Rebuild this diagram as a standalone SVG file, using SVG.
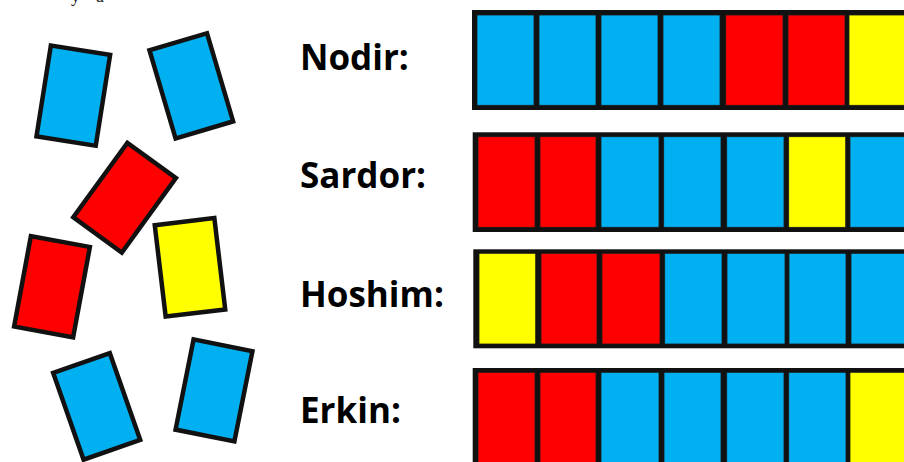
<svg xmlns="http://www.w3.org/2000/svg" width="904" height="462" viewBox="0 0 904 462">
<style>
.card{stroke:#111;stroke-width:4.5;stroke-linejoin:miter}
.b{fill:#00B0F0}.r{fill:#FF0000}.y{fill:#FFFF00}
.frame{fill:#111}
.cell{stroke:#1a1a1a;stroke-width:0.8}
.lbl{font-family:"Open Sans","Liberation Sans",sans-serif;font-weight:700;font-size:35px;fill:#000}
.frag{font-family:"Liberation Serif",serif;font-size:18px;fill:#222}
</style>
<defs>
<rect id="c" x="-30" y="-46" width="60" height="92"/>
</defs>
<rect width="904" height="462" fill="#fff"/>
<text class="frag" y="1.5"><tspan x="71">y</tspan><tspan x="96">a</tspan></text>

<g id="card-a" transform="translate(73.3,95.6) rotate(9)"><use href="#c" class="card b"/></g>
<g id="card-b" transform="translate(191.3,85.8) rotate(-16.5)"><use href="#c" class="card b"/></g>
<g id="card-c" transform="translate(124.6,197.7) rotate(36)"><use href="#c" class="card r"/></g>
<g id="card-d" transform="translate(190,267.3) rotate(-6.8)"><use href="#c" class="card y"/></g>
<g id="card-e" transform="translate(52,286.8) rotate(10.5)"><use href="#c" class="card r"/></g>
<g id="card-f" transform="translate(96.7,406.4) rotate(-19.3)"><use href="#c" class="card b"/></g>
<g id="card-g" transform="translate(214,390.4) rotate(11.3)"><use href="#c" class="card b"/></g>

<g id="label-nodir"><text class="lbl" x="300" y="70">Nodir:</text></g>
<g id="label-sardor"><text class="lbl" x="300" y="188">Sardor:</text></g>
<g id="label-hoshim"><text class="lbl" x="300" y="306.5">Hoshim:</text></g>
<g id="label-erkin"><text class="lbl" x="300" y="423">Erkin:</text></g>

<g id="bar-nodir">
<rect class="frame" x="472" y="10" width="440" height="100"/>
<rect class="cell b" x="477" y="15" width="57" height="90.3"/>
<rect class="cell b" x="539" y="15" width="57" height="90.3"/>
<rect class="cell b" x="601" y="15" width="57" height="90.3"/>
<rect class="cell b" x="663" y="15" width="57" height="90.3"/>
<rect class="cell r" x="725.7" y="15" width="57.3" height="90.3"/>
<rect class="cell r" x="788" y="15" width="57" height="90.3"/>
<rect class="cell y" x="849" y="15" width="60" height="90.3"/>
</g>
<g id="bar-sardor">
<rect class="frame" x="472.7" y="132.3" width="440" height="99.7"/>
<rect class="cell r" x="478" y="136.7" width="57" height="90.6"/>
<rect class="cell r" x="540" y="136.7" width="56" height="90.6"/>
<rect class="cell b" x="601" y="136.7" width="58" height="90.6"/>
<rect class="cell b" x="663.7" y="136.7" width="57.3" height="90.6"/>
<rect class="cell b" x="726.7" y="136.7" width="57.3" height="90.6"/>
<rect class="cell y" x="788.7" y="136.7" width="57" height="90.6"/>
<rect class="cell b" x="850" y="136.7" width="60" height="90.6"/>
</g>
<g id="bar-hoshim">
<rect class="frame" x="473.3" y="249.3" width="440" height="99"/>
<rect class="cell y" x="479" y="253.3" width="56.7" height="90.7"/>
<rect class="cell r" x="541" y="253.3" width="56" height="90.7"/>
<rect class="cell r" x="602" y="253.3" width="58" height="90.7"/>
<rect class="cell b" x="664.7" y="253.3" width="57.3" height="90.7"/>
<rect class="cell b" x="727" y="253.3" width="58" height="90.7"/>
<rect class="cell b" x="789" y="253.3" width="57" height="90.7"/>
<rect class="cell b" x="851" y="253.3" width="60" height="90.7"/>
</g>
<g id="bar-erkin">
<rect class="frame" x="472.7" y="368" width="440" height="100"/>
<rect class="cell r" x="478" y="372.3" width="57" height="95"/>
<rect class="cell r" x="540" y="372.3" width="56" height="95"/>
<rect class="cell b" x="601" y="372.3" width="58" height="95"/>
<rect class="cell b" x="664" y="372.3" width="57" height="95"/>
<rect class="cell b" x="726.7" y="372.3" width="57.3" height="95"/>
<rect class="cell b" x="788.7" y="372.3" width="57.3" height="95"/>
<rect class="cell y" x="850" y="372.3" width="60" height="95"/>
</g>
</svg>
